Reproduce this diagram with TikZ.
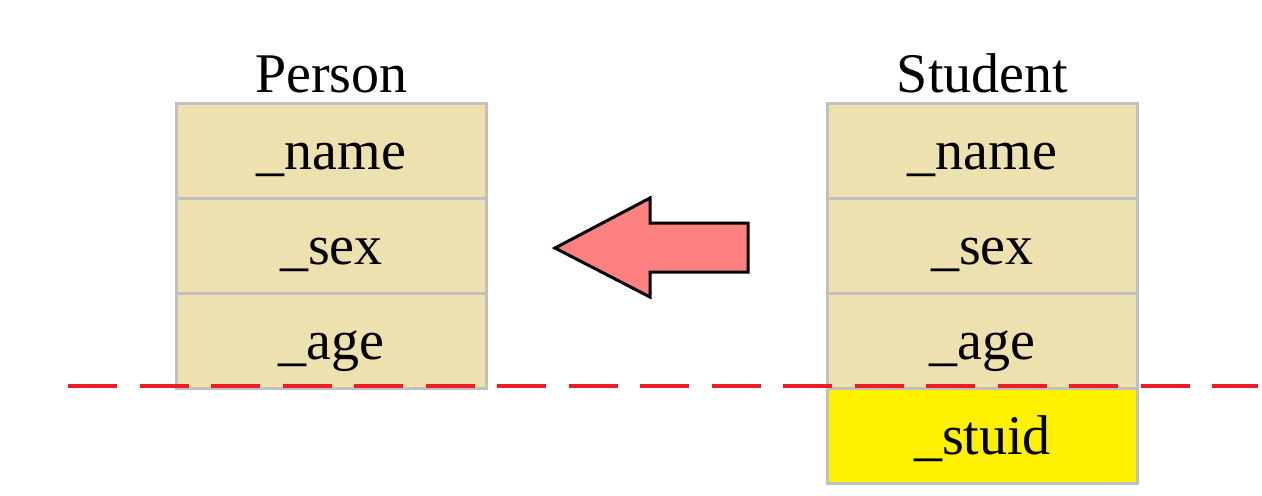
\documentclass[tikz,border=0pt]{standalone}
\usepackage{fontspec}
\setmainfont{Liberation Serif}
\usepackage{tikz}
\usetikzlibrary{positioning}

\definecolor{fieldtan}{RGB}{238,225,176}
\definecolor{cellgray}{RGB}{192,192,192}
\definecolor{cutred}{RGB}{237,28,36}
\definecolor{arrowpink}{RGB}{255,128,128}

\begin{document}
\begin{tikzpicture}[
  x=0.5pt, y=-0.5pt,
  field/.style={draw=cellgray, line width=1.5pt, fill=fieldtan,
                minimum width=155pt, minimum height=47.5pt, inner sep=0pt,
                outer sep=0pt, text height=19pt, text depth=0pt,
                font=\fontsize{28}{32}\selectfont},
  newfield/.style={field, fill=yellow},
  title/.style={font=\fontsize{28}{32}\selectfont, inner sep=2pt},
  cut/.style={cutred, line width=2pt, dash pattern=on 24.5pt off 11.25pt},
  node distance=0pt
]
  \useasboundingbox (0,0) rectangle (1262,495);

  % base class
  \node[field] (pname) at (331.5,150.5) {\_name};
  \node[field, below=of pname] (psex) {\_sex};
  \node[field, below=of psex]  (page) {\_age};
  \node[title, above=3pt of pname] (person) {Person};

  % derived class
  \node[field] (sname) at (982.5,150.5) {\_name};
  \node[field, below=of sname] (ssex)  {\_sex};
  \node[field, below=of ssex]  (sage)  {\_age};
  \node[newfield, below=of sage] (sid) {\_stuid};
  \node[title, above=3pt of sname] (student) {Student};

  % inheritance arrow
  \draw[line width=1.5pt, fill=arrowpink, line join=miter]
    (555,248) -- (650,198) -- (650,223) -- (748,223)
    -- (748,272) -- (650,272) -- (650,297) -- cycle;

  % boundary of the base part
  \coordinate (cutl) at (68,386);
  \coordinate (cutr) at (1258,386);
  \draw[cut] (cutl) -- (cutr);
\end{tikzpicture}
\end{document}
